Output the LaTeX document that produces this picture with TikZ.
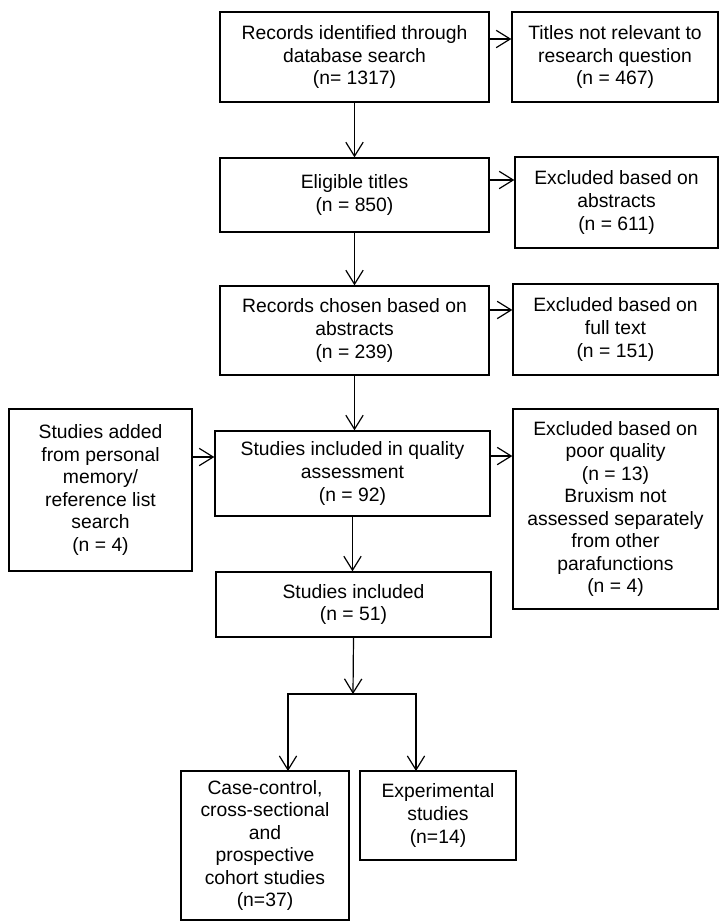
\documentclass[tikz,border=0pt]{standalone}
\usepackage{fontspec}
\setmainfont{Liberation Sans}
\usetikzlibrary{arrows.meta}

\begin{document}
\begin{tikzpicture}[x=0.75pt, y=-0.75pt,
    every node/.style={font=\fontsize{14.5pt}{16.9pt}\selectfont, align=center, inner sep=0pt},
    box/.style 2 args={draw, line width=1pt, minimum width=#1*0.75pt, minimum height=#2*0.75pt},
    arr/.style={line width=0.9pt, -{Straight Barb[length=10.5pt,width=13pt]}}]
  \useasboundingbox (0,0) rectangle (720,922);
  % main column
  \node [box={269}{90}] (rec) at (354.5,57) {Records identified through\\database search\\(n= 1317)};
  \node [box={269}{74}] (elig) at (354.5,195) {Eligible titles\\(n = 850)};
  \node [box={269}{89}] (chosen) at (354.5,330.5) {Records chosen based on\\abstracts\\(n = 239)};
  \node [box={275}{85}] (qual) at (352.5,473.5) {Studies included in quality\\assessment\\(n = 92)};
  \node [box={275}{65}] (incl) at (353.5,604.5) {Studies included\\(n = 51)};
  % exclusions
  \node [box={206}{90}] (notrel) at (615,57) {Titles not relevant to\\research question\\(n = 467)};
  \node [box={203}{91}] (exabs) at (616.5,202.5) {Excluded based on\\abstracts\\(n = 611)};
  \node [box={205}{91}] (exfull) at (615.5,329.5) {Excluded based on\\full text\\(n = 151)};
  \node [box={205}{200}] (expoor) at (615.5,509) {Excluded based on\\poor quality\\(n = 13)\\Bruxism not\\assessed separately\\from other\\parafunctions\\(n = 4)};
  \node [box={183}{162}] (added) at (100.5,490) {Studies added\\from personal\\memory/\\reference list\\search\\(n = 4)};
  % study types
  \node [box={168}{149}] (casec) at (265,845.5) {Case-control,\\cross-sectional\\and\\prospective\\cohort studies\\(n=37)};
  \node [box={156}{89}] (exper) at (438,815.5) {Experimental\\studies\\(n=14)};
  \coordinate (split) at (353,694);
  \coordinate (lft) at (288,771);
  \coordinate (rgt) at (416,771);
    \draw [arr] (rec.south) -- (rec.south |- elig.north);
    \draw [arr] (elig.south) -- (elig.south |- chosen.north);
    \draw [arr] (chosen.south) -- (chosen.south |- qual.north);
    \draw [arr] (qual.south) -- (qual.south |- incl.north);
    \draw [arr] ([yshift=13.5pt]rec.east) -- ([yshift=13.5pt]rec.east -| notrel.west);
    \draw [arr] ([yshift=11.25pt]elig.east) -- ([yshift=11.25pt]elig.east -| exabs.west);
    \draw [arr] ([yshift=15.4pt]chosen.east) -- ([yshift=15.4pt]chosen.east -| exfull.west);
    \draw [arr] ([yshift=24.75pt]added.east) -- ([yshift=24.75pt]added.east -| qual.west);
    \draw [arr] ([yshift=13.1pt]qual.east) -- ([yshift=13.1pt]qual.east -| expoor.west);
  \draw [arr] (incl.south) -- (split);
  \draw [arr] (split) -| (lft);
  \draw [arr] (split) -| (rgt);
\end{tikzpicture}
\end{document}
